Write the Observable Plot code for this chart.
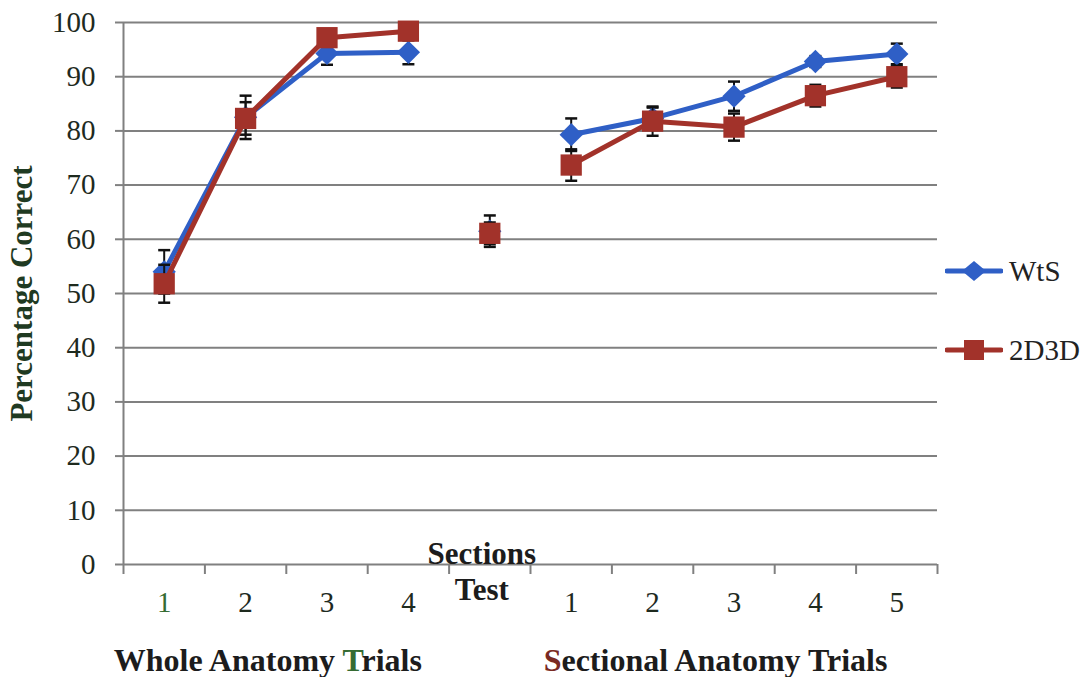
<!DOCTYPE html>
<html>
<head>
<meta charset="utf-8">
<script src="https://cdn.jsdelivr.net/npm/d3@7"></script>
<script src="https://cdn.jsdelivr.net/npm/@observablehq/plot@0.6"></script>
<style>
  html, body { margin: 0; padding: 0; background: #fff; }
  #wrap { position: relative; width: 1087px; height: 677px; font-family: "Liberation Serif", "Times New Roman", serif; }
  #wrap svg text { font-family: "Liberation Serif", "Times New Roman", serif; }
  .group { position: absolute; top: 640px; font-weight: bold; font-size: 32px; line-height: 40px; color: #1c1c1c; transform: translateX(-50%); white-space: nowrap; }
  .leg { position: absolute; left: 945px; display: flex; align-items: center; font-size: 29px; color: #222; }
  .leg svg { margin-right: 6px; }
</style>
</head>
<body>
<div id="wrap"></div>
<script>
// ---- data ----
const categories = ["1", "2", "3", "4", "Sections\nTest", "1", "2", "3", "4", "5"];
const segments = ["whole", "whole", "whole", "whole", "test", "sectional", "sectional", "sectional", "sectional", "sectional"];
const seriesNames = ["WtS", "2D3D"];
const wtsValues = [54.0, 82.5, 94.3, 94.5, 61.5, 79.3, 82.3, 86.4, 92.8, 94.2];
const wtsErrors = [4.0, 4.0, 2.1, 2.2, 2.9, 3.0, 2.0, 2.7, 1.0, 1.9];
const d2d3dValues = [51.8, 82.3, 97.2, 98.4, 61.1, 73.7, 81.8, 80.7, 86.5, 90.0];
const d2d3dErrors = [3.5, 3.0, 1.0, 1.0, 2.0, 2.9, 2.7, 2.5, 2.0, 2.0];
const yTicks = [0, 10, 20, 30, 40, 50, 60, 70, 80, 90, 100];
const groupLabels = ["Whole Anatomy Trials", "Sectional Anatomy Trials"];
const yLabel = "Percentage Correct";

const blue = "#2f5fc6";
const red = "#a2322a";
const grid = "#808080";
const ink = "#1e2a1e";

function rows(name, vals, errs) {
  return vals.map((v, i) => ({series: name, idx: i, x: i + 0.5, seg: segments[i], value: v, lo: v - errs[i], hi: v + errs[i]}));
}
const wts = rows(seriesNames[0], wtsValues, wtsErrors);
const d2 = rows(seriesNames[1], d2d3dValues, d2d3dErrors);
const cats = categories.map((c, i) => ({x: i + 0.5, label: c, test: segments[i] === "test", color: i === 0 ? "#356b32" : ink}));
const boundaries = d3.range(categories.length + 1);

const capSymbol = {
  draw(context, size) {
    const w = Math.sqrt(size / Math.PI);
    context.moveTo(-w, 0);
    context.lineTo(w, 0);
  }
};

function errMarks(data) {
  return [
    Plot.ruleX(data, {x: "x", y1: "lo", y2: "hi", stroke: "#111", strokeWidth: 2}),
    Plot.dot(data, {x: "x", y: "hi", symbol: capSymbol, r: 6, stroke: "#111", strokeWidth: 2.5}),
    Plot.dot(data, {x: "x", y: "lo", symbol: capSymbol, r: 6, stroke: "#111", strokeWidth: 2.5})
  ];
}

const chart = Plot.plot({
  width: 1087,
  height: 677,
  marginLeft: 123,
  marginRight: 150,
  marginTop: 22,
  marginBottom: 113,
  style: {fontFamily: "'Liberation Serif', 'Times New Roman', serif", background: "transparent", overflow: "visible"},
  x: {domain: [0, categories.length], axis: null, label: null},
  y: {domain: [0, 100], axis: null, label: null},
  marks: [
    Plot.gridY(yTicks, {stroke: grid, strokeOpacity: 1, strokeWidth: 2}),
    Plot.ruleX([0], {stroke: grid, strokeWidth: 2}),
    Plot.axisY(yTicks, {tickSize: 8, tickPadding: 20, fontSize: 29, stroke: grid, strokeWidth: 2, fill: ink, label: null, tickFormat: d => String(d)}),
    Plot.axisX(boundaries, {tickSize: 10, stroke: grid, strokeWidth: 2, label: null, tickFormat: () => ""}),
    Plot.text(cats.filter(d => !d.test), {x: "x", y: 0, dy: 38, text: "label", fontSize: 29, fill: "color"}),
    Plot.text(cats.filter(d => d.test), {x: "x", y: 0, dy: 6, dx: -8, text: "label", fontSize: 31, fontWeight: "bold", lineHeight: 1.17, fill: "#1c1c1c"}),
    Plot.text([yLabel], {frameAnchor: "left", textAnchor: "middle", rotate: -90, dx: -101, fontSize: 31, fontWeight: "bold", fill: "#1f3a22"}),
    ...errMarks(wts),
    Plot.line(wts, {x: "x", y: "value", z: "seg", stroke: blue, strokeWidth: 5}),
    Plot.dot(wts, {x: "x", y: "value", symbol: "diamond2", r: 10.5, fill: blue}),
    ...errMarks(d2),
    Plot.line(d2, {x: "x", y: "value", z: "seg", stroke: red, strokeWidth: 5}),
    Plot.dot(d2, {x: "x", y: "value", symbol: "square", r: 12, fill: red})
  ]
});

const wrap = document.getElementById("wrap");
wrap.appendChild(chart);

// group labels under the axis
const xs = d3.scaleLinear().domain([0, categories.length]).range([123, 1087 - 150]);
const wholeIdx = segments.map((s, i) => s === "whole" ? i : -1).filter(i => i >= 0);
const secIdx = segments.map((s, i) => s === "sectional" ? i : -1).filter(i => i >= 0);
[[groupLabels[0], wholeIdx], [groupLabels[1], secIdx]].forEach(([label, idxs], g) => {
  const div = document.createElement("div");
  div.className = "group";
  // the reference has one tinted letter in each label
  if (g === 0) {
    const k = label.lastIndexOf("T");
    div.innerHTML = label.slice(0, k) + `<span style="color:#356b32">T</span>` + label.slice(k + 1);
  } else {
    div.innerHTML = `<span style="color:#7a2a22">${label[0]}</span>` + label.slice(1);
  }
  const cx = (xs(idxs[0]) + xs(idxs[idxs.length - 1] + 1)) / 2 - 18;
  div.style.left = cx + "px";
  wrap.appendChild(div);
});

// legend
const legendItems = [
  {name: seriesNames[0], color: blue, shape: "diamond", top: 243},
  {name: seriesNames[1], color: red, shape: "square", top: 322}
];
legendItems.forEach(item => {
  const div = document.createElement("div");
  div.className = "leg";
  div.style.top = item.top + "px";
  const marker = item.shape === "diamond"
    ? `<path d="M29,18 L41,28 L29,38 L17,28 Z" fill="${item.color}"/>`
    : `<rect x="19" y="18" width="20" height="20" fill="${item.color}"/>`;
  div.innerHTML = `<svg width="58" height="56" viewBox="0 0 58 56"><line x1="2" y1="28" x2="56" y2="28" stroke="${item.color}" stroke-width="5" stroke-linecap="round"/>${marker}</svg><span>${item.name}</span>`;
  wrap.appendChild(div);
});
</script>
</body>
</html>
